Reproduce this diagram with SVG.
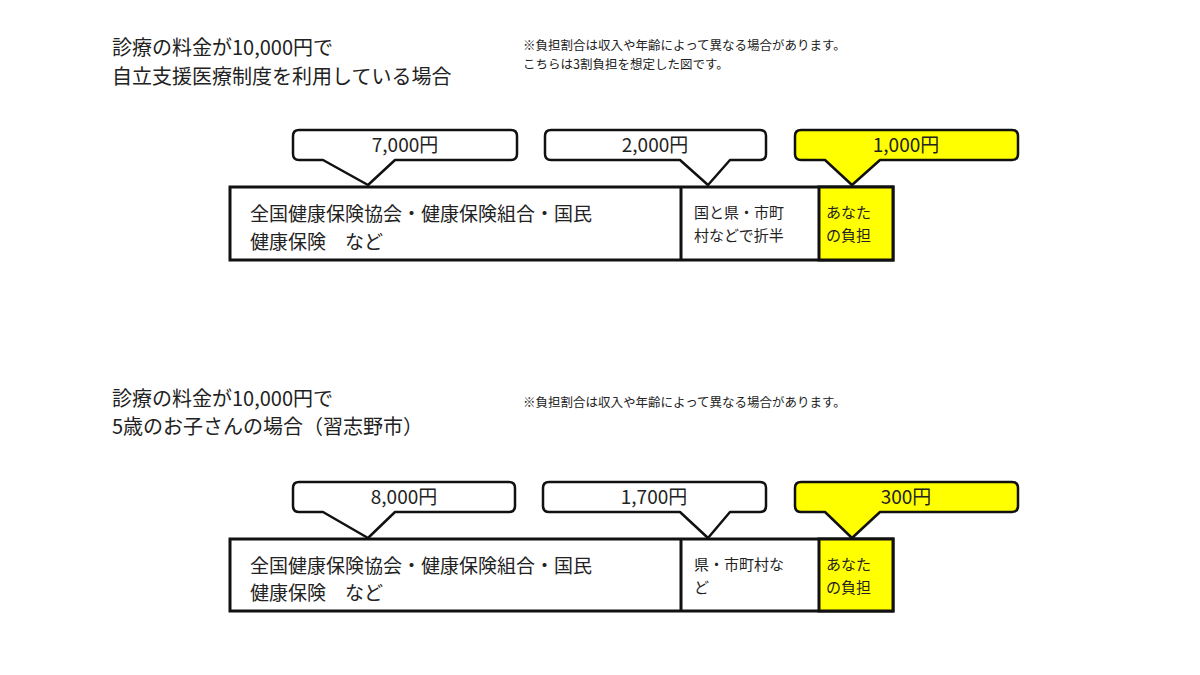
<svg xmlns="http://www.w3.org/2000/svg" width="1200" height="675" viewBox="0 0 1200 675">
<style>
text{font-family:"Noto Sans CJK JP","Noto Sans CJK SC",sans-serif;fill:#222}
.t{font-size:20px}.n{font-size:12.5px}.big{font-size:19px}.sm{font-size:15px}.amt{font-size:19px;text-anchor:middle;font-family:"Liberation Sans Narrow","Noto Sans CJK JP",sans-serif}
.box{fill:#fff;stroke:#111;stroke-width:3}.y{fill:#ffff00}
.co{stroke:#111;stroke-width:2.5;stroke-linejoin:round}
</style>
<rect width="1200" height="675" fill="#fff"/>
<g id="title1"><text class="t" x="112" y="55">診療の料金が10,000円で</text><text class="t" x="112" y="84">自立支援医療制度を利用している場合</text></g>
<g id="note1"><text class="n" x="523" y="50">※負担割合は収入や年齢によって異なる場合があります。</text><text class="n" x="523" y="69">こちらは3割負担を想定した図です。</text></g>
<g id="bar1">
<rect class="box" x="230" y="187" width="663" height="73"/>
<rect class="box y" x="819" y="187" width="74" height="73"/>
<line x1="681" y1="187" x2="681" y2="260" stroke="#111" stroke-width="3"/>
<text class="big" x="250" y="221">全国健康保険協会・健康保険組合・国民</text><text class="big" x="250" y="249">健康保険　など</text>
<text class="sm" x="694" y="218">国と県・市町</text><text class="sm" x="694" y="241">村などで折半</text>
<text class="sm" x="826" y="218">あなた</text><text class="sm" x="826" y="241">の負担</text>
</g>
<g id="callouts1">
<path class="co" fill="#fff" d="M299,130 H511 Q517,130 517,136 V154 Q517,160 511,160 H395 L368,185 L323,160 H299 Q293,160 293,154 V136 Q293,130 299,130Z"/>
<text class="amt" x="405" y="152">7,000円</text>
<path class="co" fill="#fff" d="M551,130 H760 Q766,130 766,136 V154 Q766,160 760,160 H730 L708,185 L680,160 H551 Q545,160 545,154 V136 Q545,130 551,130Z"/>
<text class="amt" x="655" y="152">2,000円</text>
<path class="co" fill="#ffff00" d="M801,130 H1012 Q1018,130 1018,136 V154 Q1018,160 1012,160 H880 L852,185 L825,160 H801 Q795,160 795,154 V136 Q795,130 801,130Z"/>
<text class="amt" x="906" y="152">1,000円</text>
</g>
<g id="title2"><text class="t" x="112" y="406">診療の料金が10,000円で</text><text class="t" x="112" y="434">5歳のお子さんの場合（習志野市）</text></g>
<g id="note2"><text class="n" x="523" y="407">※負担割合は収入や年齢によって異なる場合があります。</text></g>
<g id="bar2">
<rect class="box" x="230" y="539" width="663" height="72"/>
<rect class="box y" x="819" y="539" width="74" height="72"/>
<line x1="681" y1="539" x2="681" y2="611" stroke="#111" stroke-width="3"/>
<text class="big" x="250" y="573">全国健康保険協会・健康保険組合・国民</text><text class="big" x="250" y="600">健康保険　など</text>
<text class="sm" x="694" y="570">県・市町村な</text><text class="sm" x="694" y="593">ど</text>
<text class="sm" x="826" y="570">あなた</text><text class="sm" x="826" y="593">の負担</text>
</g>
<g id="callouts2">
<path class="co" fill="#fff" d="M299,482 H509 Q515,482 515,488 V506 Q515,512 509,512 H395 L368,538 L323,512 H299 Q293,512 293,506 V488 Q293,482 299,482Z"/>
<text class="amt" x="404" y="504">8,000円</text>
<path class="co" fill="#fff" d="M549,482 H760 Q766,482 766,488 V506 Q766,512 760,512 H730 L708,538 L680,512 H549 Q543,512 543,506 V488 Q543,482 549,482Z"/>
<text class="amt" x="654" y="504">1,700円</text>
<path class="co" fill="#ffff00" d="M801,482 H1012 Q1018,482 1018,488 V506 Q1018,512 1012,512 H880 L852,538 L825,512 H801 Q795,512 795,506 V488 Q795,482 801,482Z"/>
<text class="amt" x="906" y="504">300円</text>
</g>
</svg>
